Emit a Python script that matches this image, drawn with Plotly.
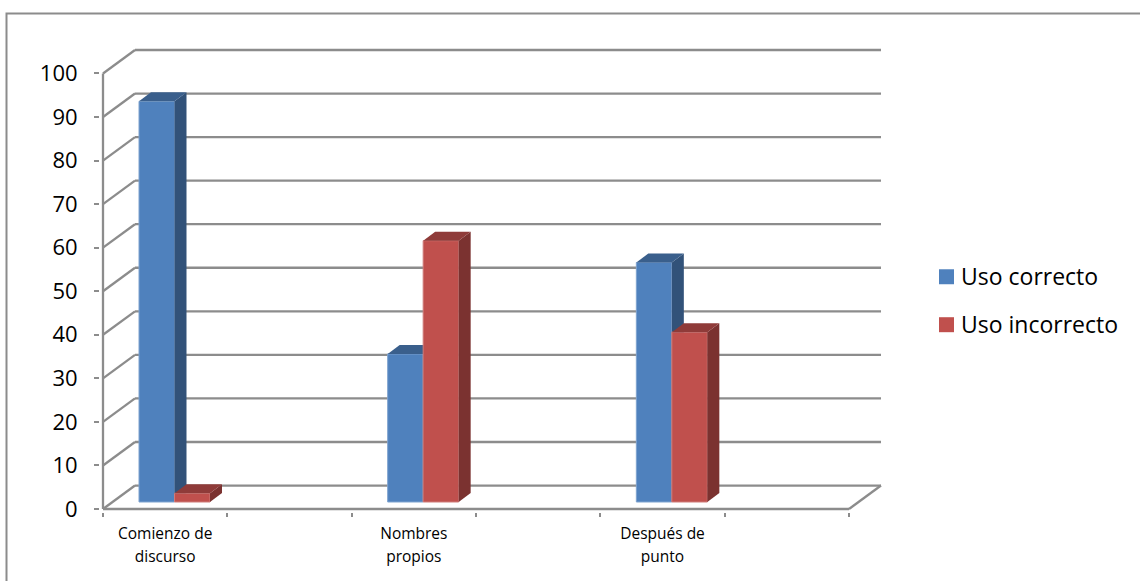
import plotly.graph_objects as go

# Chart data
categories = ["Comienzo de<br>discurso", "Nombres<br>propios", "Después de<br>punto"]
category_slots = [0, 2, 4]
series_names = ["Uso correcto", "Uso incorrecto"]
uso_correcto = [92, 34, 55]
uso_incorrecto = [2, 60, 39]
y_ticks = [0, 10, 20, 30, 40, 50, 60, 70, 80, 90, 100]
x_boundaries = [-0.5, 0.5, 1.5, 2.5, 3.5, 4.5, 5.5]

# Pixel geometry of the pseudo-3D box; the plot area has a small pad so that
# lines lying on its edges keep their full width
W, H = 1140, 581
PAD = 3
AXIS_X, AXIS_Y = 103, 509
LEFT, RIGHT, TOP, BOTTOM = AXIS_X - PAD, 881 + PAD, 49.5 - PAD, AXIS_Y + PAD
PX_PER_SLOT = 746 / 6
PX_PER_UNIT = 436 / 100
WALL_DX = 32 / PX_PER_SLOT
WALL_DY = 23.5 / PX_PER_UNIT
FLOOR_DY = 7 / PX_PER_UNIT
BAR_W = 35.5 / PX_PER_SLOT
BAR_DX = 12 / PX_PER_SLOT
BAR_DY = 9 / PX_PER_UNIT
BAR_INSET = 36 / PX_PER_SLOT

FONT = "Open Sans"
GRID = "#8c8c8c"
BLUE, BLUE_SIDE, BLUE_TOP, BLUE_EDGE = "#4f81bd", "#325279", "#3a5f8c", "#7fa3cf"
RED, RED_SIDE, RED_TOP, RED_EDGE = "#c0504d", "#7b3230", "#8f3b39", "#cf7c7a"

wall_right = x_boundaries[-1] + WALL_DX
wall_top = y_ticks[-1] + WALL_DY
x_range = [x_boundaries[0] - PAD / PX_PER_SLOT, wall_right + PAD / PX_PER_SLOT]
y_range = [y_ticks[0] - PAD / PX_PER_UNIT, wall_top + PAD / PX_PER_UNIT]


def paper_x(px):
    return (px - LEFT) / (RIGHT - LEFT)


def paper_y(px):
    return (BOTTOM - px) / (BOTTOM - TOP)


fig = go.Figure()


def add_series(values, offset, colors, name, xa, ya):
    """Front faces as bars, top and side faces as filled polygons."""
    front, side, top, edge = colors
    left = [s - 0.5 + BAR_INSET + offset for s in category_slots]
    fig.add_trace(go.Bar(
        x=[l + BAR_W / 2 for l in left], y=values, base=FLOOR_DY, width=BAR_W,
        marker=dict(color=front, line=dict(color=edge, width=1)),
        name=name, showlegend=False, xaxis=xa, yaxis=ya, hoverinfo="skip",
    ))
    for l, v in zip(left, values):
        r = l + BAR_W
        y0, y1 = FLOOR_DY, FLOOR_DY + v
        fig.add_trace(go.Scatter(
            x=[r, r + BAR_DX, r + BAR_DX, r, r],
            y=[y1, y1 + BAR_DY, y0 + BAR_DY, y0, y1],
            fill="toself", fillcolor=side, mode="none",
            showlegend=False, xaxis=xa, yaxis=ya, hoverinfo="skip",
        ))
        fig.add_trace(go.Scatter(
            x=[l, l + BAR_DX, r + BAR_DX, r, l],
            y=[y1, y1 + BAR_DY, y1 + BAR_DY, y1, y1],
            fill="toself", fillcolor=top, mode="none",
            showlegend=False, xaxis=xa, yaxis=ya, hoverinfo="skip",
        ))


# Red sits on an overlaid pair of axes so its faces cover the blue side faces
add_series(uso_correcto, 0, (BLUE, BLUE_SIDE, BLUE_TOP, BLUE_EDGE), series_names[0], "x", "y")
add_series(uso_incorrecto, BAR_W, (RED, RED_SIDE, RED_TOP, RED_EDGE), series_names[1], "x2", "y2")

shapes = []
line = dict(color=GRID, width=2.3)
# Walls: one diagonal and one horizontal run per gridline
for t in y_ticks:
    shapes.append(dict(type="line", xref="x", yref="y", layer="below", line=line,
                       x0=x_boundaries[0], y0=t,
                       x1=x_boundaries[0] + WALL_DX, y1=t + WALL_DY))
    shapes.append(dict(type="line", xref="x", yref="y", layer="below", line=line,
                       x0=x_boundaries[0] + WALL_DX, y0=t + WALL_DY,
                       x1=wall_right, y1=t + WALL_DY))
# Axis lines and the right edge of the floor
shapes += [
    dict(type="line", xref="x", yref="y", layer="below", line=line,
         x0=x_boundaries[0], y0=y_ticks[0], x1=x_boundaries[0], y1=y_ticks[-1]),
    dict(type="line", xref="x", yref="y", layer="below", line=line,
         x0=x_boundaries[0], y0=y_ticks[0], x1=x_boundaries[-1], y1=y_ticks[0]),
    dict(type="line", xref="x", yref="y", layer="below", line=line,
         x0=x_boundaries[-1], y0=y_ticks[0], x1=wall_right, y1=WALL_DY),
]
# Outer chart frame, running past the right and bottom page edges
shapes.append(dict(type="rect", xref="paper", yref="paper", layer="below",
                   x0=paper_x(6.5), x1=paper_x(W + 5),
                   y0=paper_y(H + 5), y1=paper_y(13),
                   line=dict(color="#8c8c8c", width=2)))

# Legend keys and labels, placed to the right of the plot
legend_y = [276.5, 324.5]
annotations = []
for label, key, py in zip(series_names, [BLUE, RED], legend_y):
    shapes.append(dict(type="rect", xref="paper", yref="paper", line_width=0, fillcolor=key,
                       x0=paper_x(939), x1=paper_x(954),
                       y0=paper_y(py + 7.5), y1=paper_y(py - 7.5)))
    annotations.append(dict(text=label, xref="paper", yref="paper", showarrow=False,
                            x=paper_x(958.5), xanchor="left",
                            y=paper_y(py - 0.5), yanchor="middle",
                            font=dict(size=23, color="#000000", family=FONT)))

tick_labels = ['<span style="font-size:15.5px">' + c.replace("<br>", '</span><br><span style="font-size:15.5px">') + "</span>"
               for c in categories]

fig.update_layout(
    width=W, height=H, autosize=False,
    margin=dict(l=LEFT, r=W - RIGHT, t=TOP, b=H - BOTTOM),
    paper_bgcolor="#ffffff", plot_bgcolor="rgba(0,0,0,0)",
    font=dict(family=FONT, color="#000000"),
    showlegend=False, barmode="overlay",
    shapes=shapes, annotations=annotations,
    xaxis=dict(range=x_range, showgrid=False, zeroline=False, showline=False,
               tickmode="array", tickvals=category_slots, ticktext=tick_labels, ticks="",
               tickangle=0, tickfont=dict(size=17.7, family=FONT, color="#000000"),
               ticklabelstandoff=8,
               minor=dict(tickmode="array", tickvals=x_boundaries, ticks="outside",
                          ticklen=4, tickwidth=2, tickcolor=GRID)),
    yaxis=dict(range=y_range, showgrid=False, zeroline=False, showline=False,
               tickmode="array", tickvals=y_ticks, ticks="outside", ticklen=5,
               tickwidth=2, tickcolor=GRID, ticklabelstandoff=12,
               tickfont=dict(size=22, family=FONT, color="#000000")),
    xaxis2=dict(range=x_range, overlaying="x", visible=False),
    yaxis2=dict(range=y_range, overlaying="y", visible=False),
)

fig.write_html("out.html", config=dict(displayModeBar=False))
